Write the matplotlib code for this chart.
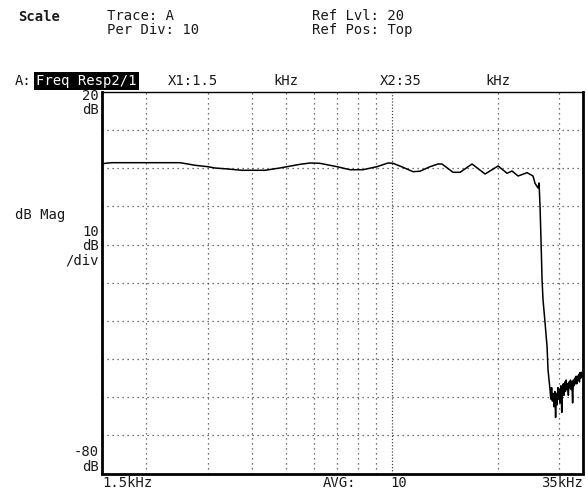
import matplotlib
matplotlib.use("Agg")
import matplotlib.pyplot as plt

# trace (kHz, dB)
freq_khz = [1.5, 1.53, 1.60, 2.50, 2.63, 2.76, 3.00, 3.14, 3.42, 3.75, 4.36,
            4.81, 5.49, 5.86, 6.25, 6.99, 7.61, 8.29, 9.08, 9.76, 10.09, 10.77,
            11.50, 12.04, 12.85, 13.54, 13.90, 14.94, 15.65, 16.92, 18.43,
            20.07, 21.29, 21.99, 22.88, 24.27, 25.23, 25.56, 26.07, 26.25,
            26.42, 26.60, 26.77, 26.94, 27.30, 27.66, 27.84,
            28.2, 28.35, 28.5, 28.65, 28.8, 28.95, 29.1, 29.25, 29.4, 29.55,
            29.7, 29.85, 30.0, 30.15, 30.3, 30.45, 30.6, 30.75, 30.9, 31.05,
            31.2, 31.35, 31.5, 31.65, 31.8, 31.95, 32.1, 32.25, 32.4, 32.55,
            32.7, 32.85, 33.0, 33.15, 33.3, 33.45, 33.6, 33.75, 33.9, 34.05,
            34.2, 34.35, 34.5, 34.65, 34.8, 35.0]
mag_db = [1.05, 1.31, 1.47, 1.47, 1.13, 0.79, 0.42, 0.08, -0.18, -0.52, -0.52,
          0.08, 1.05, 1.39, 1.31, 0.42, -0.37, -0.37, 0.42, 1.39, 1.31, 0.26,
          -0.89, -0.76, 0.42, 1.13, 1.13, -1.05, -1.05, 1.13, -1.49,
          0.60, -1.31, -0.71, -2.02, -1.15, -2.02, -3.93, -5.16, -3.85,
          -10.1, -19.6, -29.3, -34.5, -40.5, -46.8, -52.9,
          -58.0, -60.5, -57.5, -61.0, -59.0, -62.5, -58.5, -65.3, -59.0, -62.0,
          -57.5, -60.5, -58.0, -61.5, -57.0, -64.0, -58.5, -56.5, -59.5, -56.0,
          -58.5, -55.5, -58.0, -56.5, -59.5, -56.0, -57.5, -55.5, -58.0, -56.0,
          -61.5, -55.5, -57.0, -55.0, -56.5, -54.5, -56.5, -54.5, -55.5, -54.0,
          -56.0, -53.5, -55.0, -53.5, -54.5, -53.5]

grid_freqs = [2, 3, 4, 5, 6, 7, 8, 9, 20, 30]
grid_db = [10, 0, -10, -20, -30, -40, -50, -60, -70]

W, H = 588, 491
fig = plt.figure(figsize=(W / 100, H / 100), dpi=100)
ax = fig.add_axes([102 / W, 1 - 473.5 / H, 481 / W, 381.5 / H])

ax.set_xscale("log")
ax.set_xlim(1.5, 35)
ax.set_ylim(-80, 20)

for f in grid_freqs:
    ax.axvline(f, color="#444444", lw=0.9, ls=(0, (1, 3)))
ax.axvline(10, color="#444444", lw=0.9, ls=(0, (1, 1.5)))
for d in grid_db:
    ax.axhline(d, color="#444444", lw=0.9, ls=(0, (1, 3)))

ax.plot(freq_khz, mag_db, color="black", lw=1.1)

ax.set_xticks([])
ax.set_yticks([])
ax.minorticks_off()
for s in ["left", "bottom", "right"]:
    ax.spines[s].set_linewidth(2)
ax.spines["top"].set_linewidth(1)


def txt(x, y, s, ha="left", color="#1a1a1a", **kw):
    fig.text(x / W, 1 - y / H, s, ha=ha, va="center",
             family="DejaVu Sans Mono", fontsize=10, color=color, **kw)


txt(18, 17, "Scale", weight="bold")
txt(107, 23, "Trace: A\nPer Div: 10", linespacing=0.95)
txt(312, 23, "Ref Lvl: 20\nRef Pos: Top", linespacing=0.95)

txt(15, 81, "A:")
txt(36, 81, "Freq Resp2/1", color="white",
    bbox=dict(facecolor="black", edgecolor="none", pad=1.5))
txt(168, 81, "X1:1.5")
txt(273, 81, "kHz")
txt(380, 81, "X2:35")
txt(485, 81, "kHz")

txt(99, 96, "20", ha="right")
txt(99, 110, "dB", ha="right")
txt(15, 215, "dB Mag")
txt(99, 232, "10", ha="right")
txt(99, 246, "dB", ha="right")
txt(99, 261, "/div", ha="right")
txt(99, 452, "-80", ha="right")
txt(99, 467, "dB", ha="right")

txt(102, 483, "1.5kHz")
txt(323, 483, "AVG:")
txt(390, 483, "10")
txt(583, 483, "35kHz", ha="right")

fig.savefig("out.png", dpi=100)
